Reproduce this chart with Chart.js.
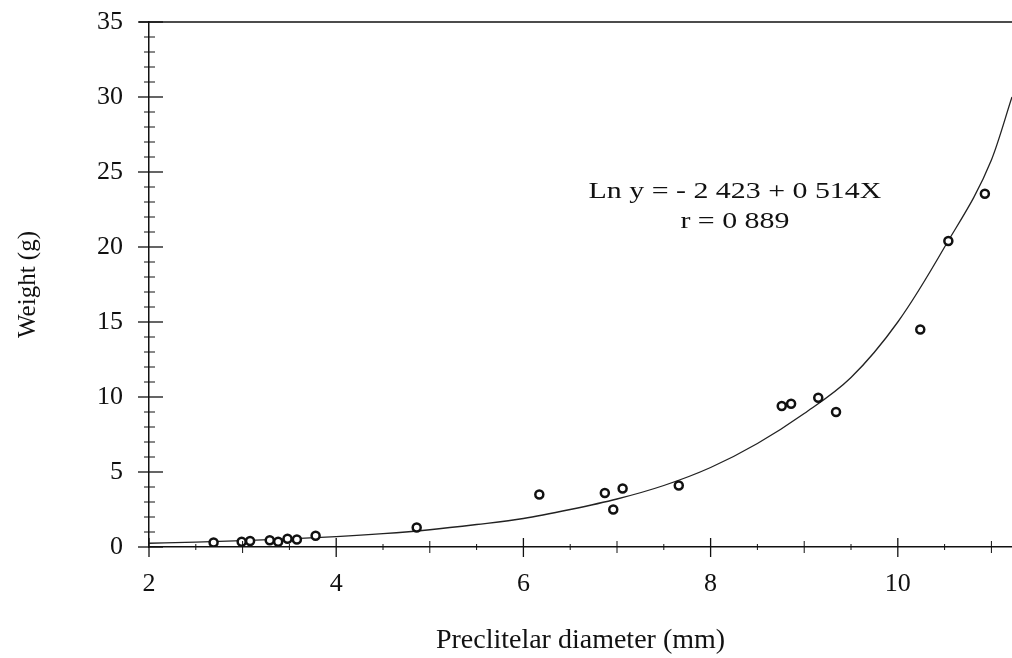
<!DOCTYPE html>
<html>
<head>
<meta charset="utf-8">
<script src="https://cdn.jsdelivr.net/npm/chart.js@4.4.1/dist/chart.umd.min.js"></script>
<style>
  html, body { margin: 0; padding: 0; background: #fff; }
  #wrap { width: 1012px; height: 658px; }
</style>
</head>
<body>
<div id="wrap"><canvas id="myChart" width="1012" height="658"></canvas></div>
<script>
const diameter = [2.69, 2.99, 3.08, 3.29, 3.38, 3.48, 3.58, 3.78, 4.86,
                  6.17, 6.87, 6.96, 7.06, 7.66,
                  8.76, 8.86, 9.15, 9.34, 10.24, 10.54, 10.93];
const weight   = [0.3, 0.35, 0.4, 0.45, 0.35, 0.55, 0.5, 0.75, 1.3,
                  3.5, 3.6, 2.5, 3.9, 4.1,
                  9.4, 9.55, 9.95, 9.0, 14.5, 20.4, 23.55];

// Fitted curve as traced on the figure
const fitX = [2, 2.5, 3, 3.5, 4, 4.5, 5, 5.5, 6, 6.5, 7, 7.5, 8, 8.5, 9, 9.5, 10, 10.5, 11, 11.22];
const fitY = [0.25, 0.32, 0.42, 0.54, 0.69, 0.89, 1.15, 1.5, 1.9, 2.5, 3.2, 4.1, 5.3, 6.9, 8.9, 11.3, 15.0, 20.0, 25.8, 30.0];

// Tick labels / tick marks
const xMajor = [2, 4, 6, 8, 10];
const xMinor = [3, 5, 7, 9, 11];
const xFine  = [2.5, 3.5, 4.5, 5.5, 6.5, 7.5, 8.5, 9.5, 10.5];
const yMajor = [0, 5, 10, 15, 20, 25, 30, 35];
const yMinor = [1, 2, 3, 4, 6, 7, 8, 9, 11, 12, 13, 14, 16, 17, 18, 19, 21, 22, 23, 24, 26, 27, 28, 29, 31, 32, 33, 34];

const equationLines = ['Ln y = - 2 423 + 0 514X', 'r = 0 889'];

const serif = "'Liberation Serif', 'DejaVu Serif', serif";

// Draws tick marks that cross the axes, the top frame line and the equation
const axisMarks = {
    id: 'axisMarks',
    afterDraw(chart) {
        const ctx = chart.ctx;
        const area = chart.chartArea;
        const xs = chart.scales.x;
        const ys = chart.scales.y;
        ctx.save();
        ctx.strokeStyle = '#111';

        // top line
        ctx.lineWidth = 1.5;
        ctx.beginPath();
        ctx.moveTo(area.left - 10, area.top);
        ctx.lineTo(area.right, area.top);
        ctx.stroke();

        // y ticks
        ctx.lineWidth = 1.3;
        yMajor.forEach(v => {
            const p = ys.getPixelForValue(v);
            ctx.beginPath();
            ctx.moveTo(area.left - 11, p);
            ctx.lineTo(area.left + 14, p);
            ctx.stroke();
        });
        ctx.lineWidth = 1;
        yMinor.forEach(v => {
            const p = ys.getPixelForValue(v);
            ctx.beginPath();
            ctx.moveTo(area.left - 5, p);
            ctx.lineTo(area.left + 6, p);
            ctx.stroke();
        });

        // x ticks
        ctx.lineWidth = 1.3;
        xMajor.forEach(v => {
            const p = xs.getPixelForValue(v);
            ctx.beginPath();
            ctx.moveTo(p, area.bottom - 9);
            ctx.lineTo(p, area.bottom + 10);
            ctx.stroke();
        });
        ctx.lineWidth = 1;
        xMinor.forEach(v => {
            const p = xs.getPixelForValue(v);
            ctx.beginPath();
            ctx.moveTo(p, area.bottom - 6);
            ctx.lineTo(p, area.bottom + 6);
            ctx.stroke();
        });
        xFine.forEach(v => {
            const p = xs.getPixelForValue(v);
            ctx.beginPath();
            ctx.moveTo(p, area.bottom - 3);
            ctx.lineTo(p, area.bottom + 3);
            ctx.stroke();
        });

        // regression equation (the scanned figure is stretched sideways)
        ctx.fillStyle = '#111';
        ctx.font = '23px ' + serif;
        ctx.textAlign = 'center';
        ctx.textBaseline = 'middle';
        const tx = xs.getPixelForValue(8.26);
        const stretch = 1.3;
        ctx.translate(tx, 0);
        ctx.scale(stretch, 1);
        ctx.fillText(equationLines[0], 0, ys.getPixelForValue(23.7));
        ctx.fillText(equationLines[1], 0, ys.getPixelForValue(21.7));
        ctx.restore();
    }
};

const ctx = document.getElementById('myChart').getContext('2d');
const chart = new Chart(ctx, {
    type: 'scatter',
    data: {
        datasets: [
            {
                label: 'Samples',
                data: diameter.map((d, i) => ({ x: d, y: weight[i] })),
                pointRadius: 4,
                pointBorderWidth: 2.5,
                pointBorderColor: '#111',
                pointBackgroundColor: '#fff',
                showLine: false,
                order: 1
            },
            {
                label: 'Fit',
                data: fitX.map((d, i) => ({ x: d, y: fitY[i] })),
                showLine: true,
                pointRadius: 0,
                borderColor: '#222',
                borderWidth: 1.3,
                cubicInterpolationMode: 'monotone',
                fill: false,
                order: 2
            }
        ]
    },
    options: {
        responsive: false,
        animation: false,
        layout: { autoPadding: false, padding: { top: 22, right: 0, left: 0, bottom: 0 } },
        plugins: {
            legend: { display: false },
            tooltip: { enabled: false }
        },
        scales: {
            x: {
                type: 'linear',
                min: 2,
                max: 11.22,
                afterBuildTicks: s => { s.ticks = xMajor.map(v => ({ value: v })); },
                afterFit: s => { s.height = 111; s.paddingLeft = 0; s.paddingRight = 0; },
                grid: { display: false },
                border: { display: true, color: '#111', width: 1.5 },
                ticks: {
                    color: '#111',
                    font: { family: serif, size: 26 },
                    padding: 14,
                    maxRotation: 0
                },
                title: {
                    display: true,
                    text: 'Preclitelar diameter (mm)',
                    color: '#111',
                    font: { family: serif, size: 28 },
                    padding: { top: 0, bottom: 1 }
                }
            },
            y: {
                type: 'linear',
                min: 0,
                max: 35,
                afterBuildTicks: s => { s.ticks = yMajor.map(v => ({ value: v })); },
                afterFit: s => { s.width = 149; s.paddingTop = 0; s.paddingBottom = 0; },
                grid: { display: false },
                border: { display: true, color: '#111', width: 1.5 },
                ticks: {
                    color: '#111',
                    font: { family: serif, size: 26 },
                    padding: 18
                },
                title: {
                    display: true,
                    text: 'Weight (g)',
                    color: '#111',
                    font: { family: serif, size: 25 },
                    padding: { top: 13, bottom: 0 }
                }
            }
        }
    },
    plugins: [axisMarks]
});
</script>
</body>
</html>
